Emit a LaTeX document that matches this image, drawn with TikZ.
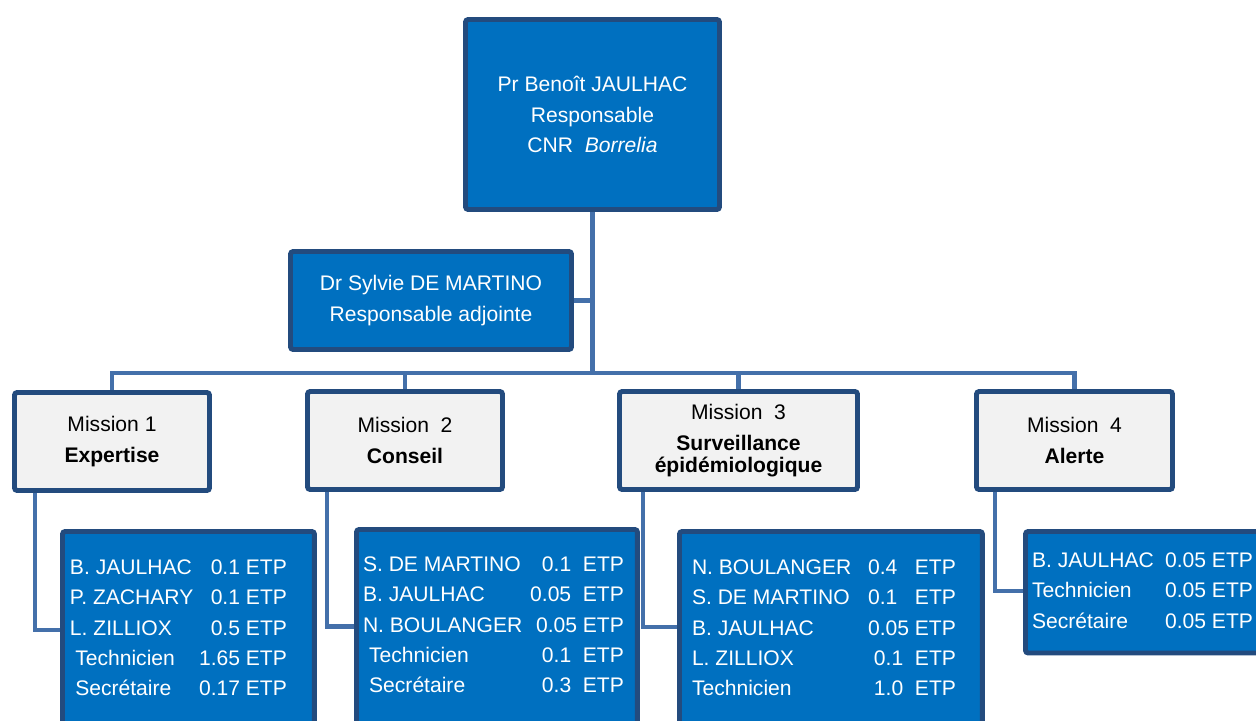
\documentclass[tikz,border=0pt]{standalone}
\usepackage{fontspec}
\setmainfont{Liberation Sans}
\usetikzlibrary{positioning,backgrounds}
\definecolor{boxblue}{HTML}{0070C0}
\definecolor{navy}{HTML}{234B7E}
\definecolor{linkblue}{HTML}{4470AA}
\definecolor{paleg}{HTML}{F2F2F2}

\begin{document}
\begin{tikzpicture}[x=0.02cm,y=-0.02cm,
    head/.style={rectangle,draw=navy,fill=boxblue,line width=2.8pt,
      rounded corners=1.5pt,outer sep=0pt,text=white,align=center,
      font=\fontsize{12}{17.5}\selectfont},
    mission/.style={head,fill=paleg,text=black,
      minimum width=3.9cm,minimum height=1.96cm},
    staff/.style={rectangle,draw=navy,fill=boxblue,line width=2.8pt,
      rounded corners=1.5pt,outer sep=0pt,anchor=north west},
    staffrows/.style={inner sep=0pt,outer sep=0pt,text=white,
      font=\fontsize{12}{17.3}\selectfont},
    link/.style={draw=linkblue,line width=2.3pt}]
\clip (0,0) rectangle (1256,720);
% direction
\node[head,minimum width=5.08cm,minimum height=3.8cm] (top) at (592.5,114.5)
  {Pr Benoît JAULHAC\\Responsable\\CNR\ \ \textit{Borrelia}};
\node[head,minimum width=5.62cm,minimum height=1.96cm] (dep) at (431,300.5)
  {Dr Sylvie DE MARTINO\\Responsable adjointe};
% missions
\node[mission] (m1) at (112,441.5) {Mission 1\\\textbf{Expertise}};
\node[mission] (m2) at (405,440.5) {Mission\ \ 2\\\textbf{Conseil}};
\node[mission,minimum width=4.76cm] (m3) at (738.5,440.5)
  {Mission\ \ 3\\\textbf{Surveillance}\\[-5pt]\textbf{épidémiologique}};
\node[mission,minimum width=3.92cm] (m4) at (1074.5,440.5) {Mission\ \ 4\\\textbf{Alerte}};
% staff
\node[staff,minimum width=5.04cm,minimum height=4.97cm] (s1) at (62.5,531.5) {};
\node[staff,minimum width=5.62cm,minimum height=5cm] (s2) at (356.5,529.5) {};
\node[staff,minimum width=6.06cm,minimum height=4.97cm] (s3) at (679.5,531.5) {};
\node[staff,minimum width=5.49cm,minimum height=2.43cm] (s4) at (1025.5,531.5) {};
\node[staffrows,below right=0.43cm and 0.15cm of s1.north west] (s1txt)
  {\begin{tabular*}{4.34cm}{@{}l@{\extracolsep{\fill}}r@{}}
   B. JAULHAC & 0.1 ETP\\
   P. ZACHARY & 0.1 ETP\\
   L. ZILLIOX & 0.5 ETP\\
   \hspace{3pt}Technicien & 1.65 ETP\\
   \hspace{3pt}Secrétaire & 0.17 ETP
   \end{tabular*}};
\node[staffrows,below right=0.41cm and 0.13cm of s2.north west] (s2txt)
  {\begin{tabular*}{5.22cm}{@{}l@{\extracolsep{\fill}}r@{}}
   S. DE MARTINO & 0.1\ \ ETP\\
   B. JAULHAC & 0.05\ \ ETP\\
   N. BOULANGER & 0.05 ETP\\
   \hspace{3.5pt}Technicien & 0.1\ \ ETP\\
   \hspace{3.5pt}Secrétaire & 0.3\ \ ETP
   \end{tabular*}};
\node[staffrows,below right=0.43cm and 0.25cm of s3.north west] (s3txt)
  {\begin{tabular*}{5.28cm}{@{}l@{\extracolsep{\fill}}r@{}}
   N. BOULANGER & 0.4\ \ \ ETP\\
   S. DE MARTINO & 0.1\ \ \ ETP\\
   B. JAULHAC & 0.05 ETP\\
   L. ZILLIOX & 0.1\ \ ETP\\
   Technicien & 1.0\ \ ETP
   \end{tabular*}};
\node[staffrows,below right=0.29cm and 0.13cm of s4.north west] (s4txt)
  {\begin{tabular*}{4.42cm}{@{}l@{\extracolsep{\fill}}r@{}}
   B. JAULHAC & 0.05 ETP\\
   Technicien & 0.05 ETP\\
   Secrétaire & 0.05 ETP
   \end{tabular*}};
% links
\begin{scope}[on background layer]
\coordinate (hub) at (592.5,373);
\draw[link] (top.south) -- (hub);
\draw[link] (dep.east) -- (dep.east -| hub);
\draw[link] (m1.north) |- (hub) -| (m4.north);
\draw[link] (m2.north) -- (m2.north |- hub);
\draw[link] (m3.north) -- (m3.north |- hub);
\draw[link] ([xshift=0.41cm]m1.south west) |- ([yshift=-1.97cm]s1.north west);
\draw[link] ([xshift=0.39cm]m2.south west) |- ([yshift=-1.94cm]s2.north west);
\draw[link] ([xshift=0.47cm]m3.south west) |- ([yshift=-1.91cm]s3.north west);
\draw[link] ([xshift=0.37cm]m4.south west) |- ([yshift=-1.19cm]s4.north west);
\end{scope}
\end{tikzpicture}
\end{document}
